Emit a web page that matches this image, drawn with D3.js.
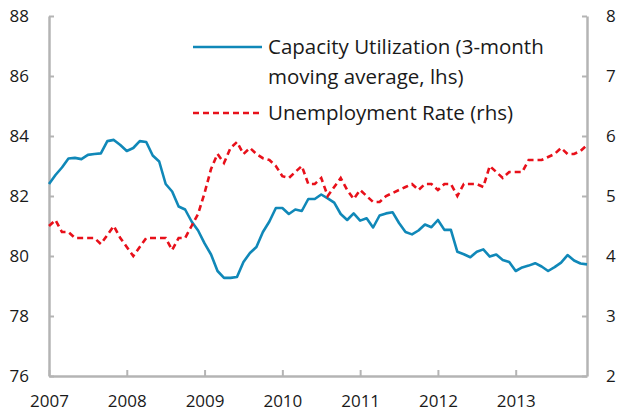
<!DOCTYPE html>
<html>
<head>
<meta charset="utf-8">
<script src="https://cdn.jsdelivr.net/npm/d3@7/dist/d3.min.js"></script>
<style>
  body { margin: 0; background: #fff; }
  text { font-family: "Open Sans", "Noto Sans", sans-serif; fill: #1a1a1a; }
</style>
</head>
<body>
<div id="chart"></div>
<script>
// Monthly data, Jan 2007 - Dec 2013
var yearLabels = [2007, 2008, 2009, 2010, 2011, 2012, 2013];

var capacity = [
  82.4, 82.7, 82.95, 83.25, 83.27, 83.23, 83.37, 83.4, 83.42, 83.83, 83.87, 83.7,
  83.5, 83.6, 83.83, 83.8, 83.35, 83.15, 82.4, 82.15, 81.65, 81.55, 81.15, 80.85,
  80.42, 80.05, 79.5, 79.27, 79.27, 79.3, 79.8, 80.1, 80.3, 80.8, 81.15, 81.6,
  81.6, 81.4, 81.55, 81.5, 81.9, 81.9, 82.05, 81.92, 81.78, 81.4, 81.2, 81.42,
  81.18, 81.26, 80.95, 81.35, 81.42, 81.46, 81.1, 80.8, 80.72, 80.85, 81.05, 80.96,
  81.2, 80.87, 80.87, 80.14, 80.06, 79.96, 80.14, 80.22, 79.98, 80.05, 79.87, 79.8,
  79.5, 79.62, 79.68, 79.76, 79.65, 79.5, 79.63, 79.78, 80.03, 79.85, 79.75, 79.72
];

var unemployment = [
  4.5, 4.6, 4.4, 4.4, 4.3, 4.3, 4.3, 4.3, 4.2, 4.35, 4.5, 4.3,
  4.15, 4.0, 4.15, 4.3, 4.3, 4.3, 4.3, 4.1, 4.3, 4.3, 4.5, 4.7,
  5.05, 5.45, 5.7, 5.55, 5.8, 5.9, 5.7, 5.8, 5.7, 5.63, 5.6, 5.5,
  5.33, 5.3, 5.4, 5.5, 5.2, 5.2, 5.3, 5.0, 5.15, 5.3, 5.1, 4.95,
  5.1, 5.0, 4.9, 4.9, 5.0, 5.05, 5.1, 5.15, 5.2, 5.1, 5.2, 5.2,
  5.1, 5.2, 5.2, 5.0, 5.2, 5.2, 5.2, 5.15, 5.5, 5.4, 5.3, 5.4,
  5.4, 5.4, 5.6, 5.6, 5.6, 5.65, 5.7, 5.8, 5.7, 5.7, 5.75, 5.85
];

var leftTicks = [76, 78, 80, 82, 84, 86, 88];
var rightTicks = [2, 3, 4, 5, 6, 7, 8];

var width = 619, height = 412;
var plotLeft = 49, plotRight = 587, plotTop = 16, plotBottom = 376;
var blue = "#1088b8", red = "#e8101a", axisColor = "#b4b4b4";

var svg = d3.select("#chart").append("svg")
  .attr("width", width).attr("height", height);

var x = d3.scaleLinear().domain([0, capacity.length - 1]).range([plotLeft, plotRight]);
var yL = d3.scaleLinear().domain([76, 88]).range([plotBottom, plotTop]);
var yR = d3.scaleLinear().domain([2, 8]).range([plotBottom, plotTop]);

function styleAxis(g) {
  g.attr("font-family", null);
  g.selectAll(".domain").attr("stroke", axisColor).attr("stroke-width", 2.5);
  g.selectAll(".tick line").attr("stroke", axisColor).attr("stroke-width", 2);
  g.selectAll("text").attr("font-size", "17px").attr("fill", "#1a1a1a");
}

svg.append("g")
  .attr("transform", "translate(" + plotLeft + ",0)")
  .call(d3.axisLeft(yL).tickValues(leftTicks).tickFormat(d3.format("d"))
    .tickSizeInner(-5).tickSizeOuter(0).tickPadding(20))
  .call(styleAxis);

svg.append("g")
  .attr("transform", "translate(" + plotRight + ",0)")
  .call(d3.axisRight(yR).tickValues(rightTicks).tickFormat(d3.format("d"))
    .tickSizeInner(-5).tickSizeOuter(0).tickPadding(19))
  .call(styleAxis);

svg.append("g")
  .attr("transform", "translate(0," + plotBottom + ")")
  .call(d3.axisBottom(x)
    .tickValues(yearLabels.map(function (d, i) { return i * 12; }))
    .tickFormat(function (d, i) { return yearLabels[i]; })
    .tickSizeInner(-6).tickSizeOuter(0).tickPadding(19))
  .call(styleAxis);

// lines
var capLine = d3.line()
  .x(function (d, i) { return x(i); })
  .y(function (d) { return yL(d); });
var unLine = d3.line()
  .x(function (d, i) { return x(i); })
  .y(function (d) { return yR(d); });

svg.append("path")
  .datum(capacity)
  .attr("d", capLine)
  .attr("fill", "none")
  .attr("stroke", blue)
  .attr("stroke-width", 2.6)
  .attr("stroke-linejoin", "round");

svg.append("path")
  .datum(unemployment)
  .attr("d", unLine)
  .attr("fill", "none")
  .attr("stroke", red)
  .attr("stroke-width", 2.6)
  .attr("stroke-dasharray", "6,4");

// legend
var legend = svg.append("g");
legend.append("line")
  .attr("x1", 193).attr("x2", 262).attr("y1", 47).attr("y2", 47)
  .attr("stroke", blue).attr("stroke-width", 2.6);
legend.append("text").attr("x", 268).attr("y", 54).attr("font-size", "20.5px")
  .text("Capacity Utilization (3-month");
legend.append("text").attr("x", 268).attr("y", 84).attr("font-size", "20.5px")
  .text("moving average, lhs)");
legend.append("line")
  .attr("x1", 193).attr("x2", 262).attr("y1", 113).attr("y2", 113)
  .attr("stroke", red).attr("stroke-width", 2.6).attr("stroke-dasharray", "6,4");
legend.append("text").attr("x", 268).attr("y", 120).attr("font-size", "20.5px")
  .text("Unemployment Rate (rhs)");
</script>
</body>
</html>
